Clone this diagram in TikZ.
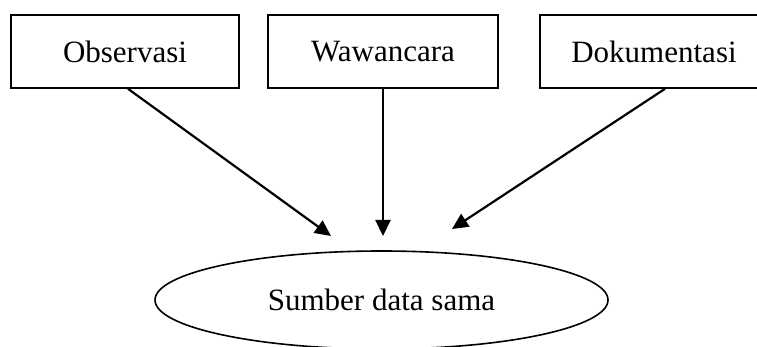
\documentclass[tikz,border=0pt]{standalone}
\usepackage{fontspec}
\setmainfont{Liberation Serif}
\usetikzlibrary{arrows.meta,shapes.geometric}
\begin{document}
\begin{tikzpicture}[x=1pt,y=-1pt,
  box/.style={draw,line width=1.6pt,rectangle,minimum height=73pt,inner sep=0pt,font=\fontsize{31}{37}\selectfont},
  oval/.style={draw,line width=1.6pt,ellipse,minimum width=453pt,minimum height=98pt,inner sep=0pt,font=\fontsize{31}{37}\selectfont},
  arr/.style={line width=2.2pt,-{Triangle[length=16pt,width=15pt]}}]
\useasboundingbox (0,0) rectangle (757,347);
\clip (0,0) rectangle (757,347);
\node[box,minimum width=228pt] (o) at (125,51.5) {Observasi};
\node[box,minimum width=230pt] (w) at (383,51.5) {Wawancara};
\node[box,minimum width=228pt] (d) at (654,51.5) {Dokumentasi};
\node[oval] (s) at (381.5,300) {Sumber data sama};
\coordinate (t1) at (331,236);
\coordinate (t2) at (383,236);
\coordinate (t3) at (452,229);
\draw[arr] ([xshift=3pt]o.south) -- (t1);
\draw[arr] (w.south) -- (t2);
\draw[arr] ([xshift=11pt]d.south) -- (t3);
\end{tikzpicture}
\end{document}
